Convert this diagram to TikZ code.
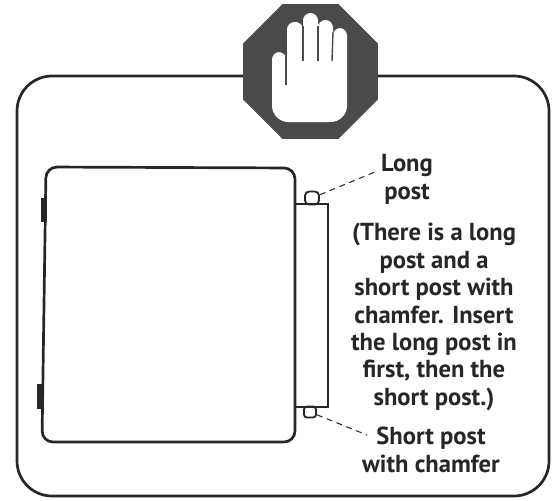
\documentclass[tikz,border=0pt]{standalone}
\usepackage{fontspec}
\usepackage{xcolor}
\setmainfont{PT Sans}
\usetikzlibrary{positioning,shapes.geometric}
\definecolor{stopgray}{HTML}{4A4A4A}
\definecolor{inkgray}{HTML}{262626}
\begin{document}
\begin{tikzpicture}[x=0.03cm,y=-0.03cm]
\tikzstyle{outline}=[draw=inkgray,line width=2.3pt]
\tikzstyle{thin}=[draw=inkgray,line width=1.4pt]
\tikzstyle{leader}=[draw=inkgray,line width=0.9pt,dash pattern=on 5pt off 4pt]
\tikzstyle{caption}=[align=center,inner sep=0pt,text=inkgray,font=\fontsize{21}{23.4}\selectfont\bfseries]
\tikzstyle{fold}=[draw=stopgray,line width=1.2pt]
\useasboundingbox (0,0) rectangle (558,500);
% frame and stop sign
\draw[outline,rounded corners=1.05cm] (17,76) rectangle (549,496);
\node[regular polygon,regular polygon sides=8,minimum size=4.38cm,inner sep=0pt,outer sep=0pt,fill=stopgray] (stop) at (310.5,71.5) {};
\fill[white] (272,66) [rounded corners=6.5pt] -- (272,52) -- (286,52) [sharp corners] -- (287,60)
  [rounded corners=6.5pt] -- (287,22) -- (303,22) [sharp corners] -- (303,30)
  [rounded corners=6.5pt] -- (303,13) -- (318,13) [sharp corners] -- (318,30)
  [rounded corners=6.5pt] -- (318,20) -- (333,20) [sharp corners] -- (333,36)
  [rounded corners=6.5pt] -- (333,28) -- (347,28) [rounded corners=14pt] -- (347,122) -- (272,122) [sharp corners] -- cycle;
\draw[fold] (286,54) -- (286,85);
\draw[fold] (303,26) -- (303,61);
\draw[fold] (318,26) -- (318,61);
\draw[fold] (333,32) -- (332,61);
% device
\draw[outline,rounded corners=0.33cm] (46,167) -- (295,168) -- (295,442) -- (42,442) -- cycle;
\draw[outline] (295,204) -- (328,204) -- (328,407) -- (295,407);
\draw[thin,fill=inkgray] (42,199) rectangle (46,221);
\draw[thin,fill=inkgray] (38,385) rectangle (43,408);
\node[draw=inkgray,line width=1.6pt,rounded corners=3.5pt,minimum width=0.42cm,minimum height=0.39cm,inner sep=0pt] (longpost) at (312,198) {};
\node[draw=inkgray,line width=1.6pt,rounded corners=2.5pt,minimum width=0.36cm,minimum height=0.33cm,inner sep=0pt] (shortpost) at (310,412) {};
% labels
\node[caption] (longlabel) at (407,179.5) {Long\\post};
\node[caption] (note) at (434,317) {(There is a long\\post and a\\short post with\\chamfer. Insert\\the long post in\\first, then the\\short post.)};
\node[caption] (shortlabel) at (431,450) {Short post\\with chamfer};
\coordinate (longend) at (375,172);
\coordinate (shortend) at (367,435);
\draw[leader] (longpost) -- (longend);
\draw[leader] (shortpost) -- (shortend);
\end{tikzpicture}
\end{document}
